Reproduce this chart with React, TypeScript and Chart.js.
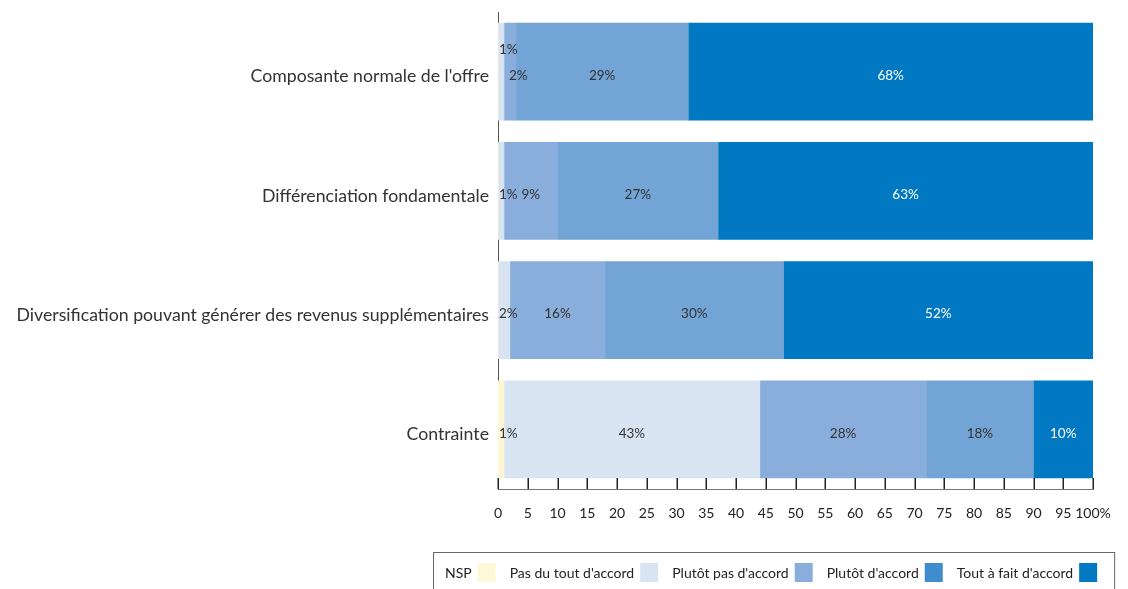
import React, { useEffect, useRef } from "react";
import { Chart, registerables } from "chart.js";

Chart.register(...registerables);

const categories = [
  "Composante normale de l'offre",
  "Différenciation fondamentale",
  "Diversification pouvant générer des revenus supplémentaires",
  "Contrainte",
];
const seriesNames = ["NSP", "Pas du tout d'accord", "Plutôt pas d'accord", "Plutôt d'accord", "Tout à fait d'accord"];
const nsp = [0, 0, 0, 1];
const pasDuTout = [1, 1, 2, 43];
const plutotPas = [2, 9, 16, 28];
const plutot = [29, 27, 30, 18];
const toutAFait = [68, 63, 52, 10];
const seriesValues = [nsp, pasDuTout, plutotPas, plutot, toutAFait];
const xTicks = [0, 5, 10, 15, 20, 25, 30, 35, 40, 45, 50, 55, 60, 65, 70, 75, 80, 85, 90, 95, 100];

const barColors = ["#fdf6d2", "#d9e4f3", "#8aaedb", "#72a4d5", "#0079c2"];
const legendColors = ["#fff8d6", "#d9e4f3", "#8aaedb", "#3f8dcf", "#0079c2"];
const labelColors = ["#333333", "#333333", "#333333", "#333333", "#ffffff"];

const FONT = "Lato, 'Open Sans', sans-serif";

const dataLabelPlugin = {
  id: "dataLabels",
  afterDatasetsDraw(chart: any) {
    const ctx = chart.ctx;
    ctx.save();
    ctx.font = `13.5px ${FONT}`;
    ctx.textAlign = "center";
    ctx.textBaseline = "middle";
    const n = chart.data.labels.length;
    for (let i = 0; i < n; i++) {
      const items: any[] = [];
      chart.data.datasets.forEach((ds: any, di: number) => {
        const v = ds.data[i];
        if (!v) return;
        const el = chart.getDatasetMeta(di).data[i];
        const left = Math.min(el.base, el.x);
        const right = Math.max(el.base, el.x);
        const text = `${v}%`;
        const w = ctx.measureText(text).width;
        let cx = Math.max((left + right) / 2, left + w / 2 + 1);
        let cy = el.y + 4;
        const prev = items[items.length - 1];
        if (prev && prev.cx + prev.w / 2 > cx - w / 2) {
          prev.cy -= 26;
          cx = Math.max(cx, prev.cx + 10);
        }
        items.push({ text, cx, cy, w, color: labelColors[di] });
      });
      items.forEach((it) => {
        ctx.fillStyle = it.color;
        ctx.fillText(it.text, it.cx, it.cy);
      });
    }
    ctx.restore();
  },
};

const tickMarkPlugin = {
  id: "tickMarks",
  afterDatasetsDraw(chart: any) {
    const ctx = chart.ctx;
    const xs = chart.scales.x;
    const bottom = chart.chartArea.bottom;
    ctx.save();
    ctx.strokeStyle = "#222222";
    ctx.lineWidth = 1.5;
    xTicks.forEach((t) => {
      const x = Math.round(xs.getPixelForValue(t)) + 0.25;
      ctx.beginPath();
      ctx.moveTo(x, bottom - 11);
      ctx.lineTo(x, bottom);
      ctx.stroke();
    });
    ctx.restore();
  },
};

const legendPlugin = {
  id: "customLegend",
  afterDraw(chart: any) {
    const ctx = chart.ctx;
    ctx.save();
    ctx.font = `14px ${FONT}`;
    ctx.textBaseline = "middle";
    ctx.textAlign = "left";
    const startX = 445;
    const cy = 573;
    let x = startX;
    chart.data.datasets.forEach((ds: any, di: number) => {
      ctx.fillStyle = "#222222";
      ctx.fillText(ds.label, x, cy);
      x += ctx.measureText(ds.label).width + 6;
      ctx.fillStyle = legendColors[di];
      ctx.fillRect(x, 563, 18, 19);
      x += 18 + 14;
    });
    ctx.strokeStyle = "#666666";
    ctx.lineWidth = 1;
    ctx.strokeRect(433.5, 552.5, x - 14 + 17 - 433, 60);
    ctx.restore();
  },
};

export default function App() {
  const ref = useRef<HTMLCanvasElement | null>(null);
  useEffect(() => {
    if (!ref.current) return;
    Chart.defaults.font.family = FONT;
    const chart = new Chart(ref.current, {
      type: "bar",
      data: {
        labels: categories,
        datasets: seriesNames.map((name, i) => ({
          label: name,
          data: seriesValues[i],
          backgroundColor: barColors[i],
          borderWidth: 0,
          barThickness: 97,
        })),
      },
      options: {
        indexAxis: "y",
        responsive: false,
        animation: false,
        layout: { padding: { left: 0, top: 12, right: 35, bottom: 0 } },
        plugins: {
          legend: { display: false },
          tooltip: { enabled: false },
          title: { display: false },
        },
        scales: {
          x: {
            type: "linear",
            stacked: true,
            min: 0,
            max: 100,
            afterBuildTicks(scale: any) {
              scale.ticks = xTicks.map((v) => ({ value: v }));
            },
            grid: { display: false },
            border: { display: true, color: "#777777", width: 1 },
            ticks: {
              color: "#222222",
              font: { size: 14 },
              padding: 8,
              maxRotation: 0,
              autoSkip: false,
              callback: (v: any) => (v === 100 ? "100%" : String(v)),
            },
            afterFit(scale: any) {
              scale.height = 100;
            },
          },
          y: {
            type: "category",
            stacked: true,
            grid: { display: false, drawTicks: false },
            border: { display: true, color: "#555555", width: 1 },
            ticks: {
              color: "#333333",
              font: { size: 17.7 },
              padding: 9,
              labelOffset: 5,
            },
            afterFit(scale: any) {
              scale.width = 498;
              scale.paddingTop = 0;
              scale.paddingBottom = 0;
            },
          },
        },
      },
      plugins: [dataLabelPlugin, tickMarkPlugin, legendPlugin],
    } as any);
    return () => chart.destroy();
  }, []);
  return (
    <div style={{ position: "absolute", left: 0, top: 0, width: 1128, height: 589, background: "#fff" }}>
      <canvas ref={ref} width={1128} height={589} style={{ width: 1128, height: 589, display: "block" }} />
    </div>
  );
}
